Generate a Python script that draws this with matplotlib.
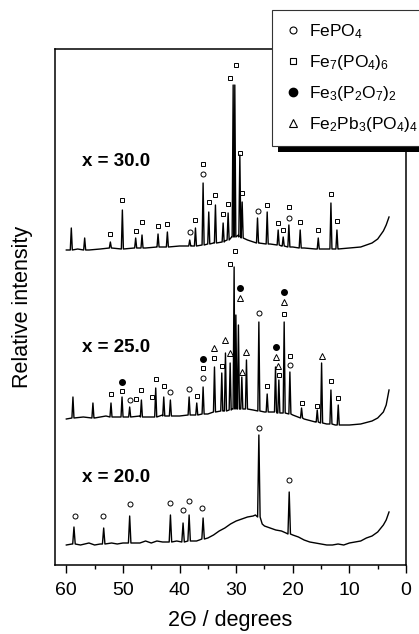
import numpy as np
import matplotlib

matplotlib.use("Agg")  # Non-interactive backend
import matplotlib.pyplot as plt
from matplotlib.lines import Line2D
from matplotlib.patches import Rectangle

plt.rcParams["font.family"] = ["Liberation Sans", "DejaVu Sans"]
plt.rcParams["mathtext.fontset"] = "custom"
plt.rcParams["mathtext.rm"] = "Liberation Sans"
plt.rcParams["mathtext.it"] = "Liberation Sans:italic"
plt.rcParams["mathtext.bf"] = "Liberation Sans:bold"
plt.rcParams["mathtext.default"] = "regular"

# ---- x = 30.0 (top trace) ----
top_base_2t = [60, 58, 56, 54, 52, 50, 48, 46, 44, 42, 40, 38, 36, 34, 32, 30.8, 29.6,
               28, 26, 24, 22, 20, 18, 16, 14, 12, 10, 8, 6, 5, 4, 3.5, 3.0]
top_base_y = [315, 316, 315, 316, 317, 316, 317, 317, 318, 318, 319, 319, 320, 322, 324, 328, 330,
              325, 322, 321, 319, 318, 317, 316, 316, 316, 317, 318, 322, 326, 334, 340, 348]
top_peak_2t = [59.12, 56.76, 52.22, 50.10, 47.75, 46.63, 43.80, 42.15, 38.20, 37.19, 35.84,
               34.84, 33.66, 32.30, 31.42, 30.53, 30.24, 29.35, 28.94, 26.23, 24.52, 22.58,
               21.69, 20.69, 18.69, 15.50, 13.26, 12.20]
top_peak_top = [337, 327, 323, 355, 327, 330, 331, 333, 325, 337, 382,
                353, 360, 342, 352, 480, 480, 410, 363, 347, 353, 335,
                328, 340, 335, 327, 362, 335]
top_peak_foot = [315, 315, 317, 316, 317, 317, 318, 318, 319, 319, 320,
                 321, 322, 323, 325, 328, 328, 328, 327, 322, 321, 320,
                 319, 318, 317, 316, 316, 316]

# ---- x = 25.0 (middle trace) ----
mid_base_2t = [60, 57, 55, 53, 50, 47, 45, 43, 40, 37, 35, 32.2, 30.7, 27, 25, 22.8,
               20, 18, 16, 14, 12.5, 10, 8, 6, 5, 4, 3.5, 3.0]
mid_base_y = [146, 148, 147, 149, 148, 149, 148, 150, 149, 151, 151, 154, 156, 155, 153, 152,
              150, 146, 143, 141, 140, 140, 141, 144, 147, 153, 160, 175]
mid_peak_2t = [58.83, 55.30, 52.11, 50.16, 48.81, 46.74, 44.21, 42.79, 41.62, 38.31, 36.96,
               35.84, 33.83, 32.54, 31.89, 31.06, 30.36, 30.05, 29.60, 29.00, 28.18, 25.99,
               24.52, 23.05, 22.46, 21.52, 20.51, 18.45, 15.68, 14.91, 13.26, 11.97]
mid_peak_top = [168, 162, 162, 168, 158, 165, 177, 168, 165, 168, 162,
                178, 198, 192, 212, 202, 298, 250, 240, 188, 205, 243,
                171, 198, 185, 243, 193, 157, 155, 202, 175, 160]
mid_peak_foot = [147, 147, 148, 148, 148, 148, 148, 149, 149, 150, 150,
                 151, 153, 154, 154, 155, 156, 156, 156, 156, 156, 154,
                 153, 153, 152, 152, 151, 147, 143, 142, 141, 140]

# ---- x = 20.0 (bottom trace) ----
bot_base_2t = [60, 59, 57.5, 56, 55, 54, 52, 51, 50, 47, 46, 45, 44, 43, 40.5, 37, 36.5,
               35, 34, 33, 32, 31, 30, 29, 28, 27, 26.6, 25.4, 25, 24, 23, 22, 21.2, 20,
               19, 18, 17, 16, 15, 14, 13, 12, 11, 10, 9, 8, 7, 6, 5, 4, 3.5, 3.0]
bot_base_y = [20, 21, 20, 22, 20, 21, 22, 21, 22, 22, 24, 22, 24, 23, 24, 24, 25,
              27, 30, 34, 37, 41, 44, 46, 48, 49, 50, 41, 39, 37, 35, 34, 32, 30,
              28, 25, 23, 22, 21, 20, 20, 21, 20, 22, 23, 24, 27, 29, 33, 40, 45, 53]
bot_peak_2t = [58.65, 53.40, 48.81, 41.61, 39.38, 38.31, 35.84, 25.99, 20.63]
bot_peak_top = [38, 37, 49, 50, 42, 50, 47, 130, 73]
bot_peak_foot = [21, 21, 22, 23, 23, 24, 26, 48, 31]

# ---- phase markers ----
fepo4_2t = [38.20, 35.84, 26.23, 20.69,
            48.81, 41.62, 38.31, 35.84, 25.99, 20.51,
            58.53, 53.52, 48.81, 41.73, 39.38, 38.31, 35.96, 25.99, 20.63]
fepo4_y = [333, 391, 354, 347,
           165, 173, 176, 187, 252, 200,
           49, 49, 61, 62, 55, 64, 57, 137, 85]

fe7_2t = [52.22, 50.10, 47.75, 46.63, 43.80, 42.15, 37.19, 35.84, 34.84, 33.66, 32.30,
          31.42, 31.12, 30.06, 29.35, 28.94, 24.52, 22.58, 21.69, 20.69, 18.69, 15.50,
          13.26, 12.20,
          52.11, 50.16, 47.63, 46.74, 44.80, 44.21, 42.79, 36.96, 35.84, 33.83, 32.54,
          31.12, 30.12, 24.52, 22.46, 21.52, 20.51, 18.45, 15.68, 13.26, 11.97]
fe7_y = [331, 365, 334, 343, 339, 341, 345, 401, 363, 370, 351,
         361, 487, 500, 412, 372, 360, 342, 335, 358, 343, 335,
         371, 344,
         171, 174, 166, 175, 168, 186, 179, 169, 197, 207, 199,
         301, 314, 179, 190, 251, 209, 162, 159, 184, 167]

fe3_2t = [50.16, 35.84, 29.24, 23.05, 21.52]
fe3_y = [183, 206, 277, 218, 273]

fe2pb3_2t = [33.83, 31.89, 31.06, 29.24, 29.00, 28.18, 23.05, 22.58, 21.52, 14.91]
fe2pb3_y = [217, 225, 212, 267, 193, 213, 208, 199, 263, 209]

sample_labels = ["x = 30.0", "x = 25.0", "x = 20.0"]
sample_label_y = [404, 217, 88]

xticks = [60, 50, 40, 30, 20, 10, 0]
legend_labels = ["FePO$_4$", "Fe$_7$(PO$_4$)$_6$", "Fe$_3$(P$_2$O$_7$)$_2$",
                 "Fe$_2$Pb$_3$(PO$_4$)$_4$"]


def build_trace(base_2t, base_y, peak_2t, peak_top, peak_foot, hw=0.18):
    # baseline readings plus a narrow triangle for each peak
    xs, ys = [], []
    for t, y in zip(base_2t, base_y):
        if all(abs(t - p) > hw for p in peak_2t):
            xs.append(t)
            ys.append(y)
    for p, top, foot in zip(peak_2t, peak_top, peak_foot):
        xs += [p + hw, p, p - hw]
        ys += [foot, top, foot]
    order = np.argsort(xs)[::-1]
    return np.array(xs)[order], np.array(ys)[order]


fig = plt.figure(figsize=(4.19, 6.34), dpi=100)
ax = fig.add_axes([55 / 419, 69 / 634, 351 / 419, 516 / 634])

traces = [
    build_trace(top_base_2t, top_base_y, top_peak_2t, top_peak_top, top_peak_foot),
    build_trace(mid_base_2t, mid_base_y, mid_peak_2t, mid_peak_top, mid_peak_foot),
    build_trace(bot_base_2t, bot_base_y, bot_peak_2t, bot_peak_top, bot_peak_foot, hw=0.22),
]
for tx, ty in traces:
    ax.plot(tx, ty, color="black", lw=1.0)

ax.plot(fepo4_2t, fepo4_y, ls="none", marker="o", ms=3.6, mfc="none", mec="black", mew=0.7)
ax.plot(fe7_2t, fe7_y, ls="none", marker="s", ms=3.0, mfc="none", mec="black", mew=0.7)
ax.plot(fe3_2t, fe3_y, ls="none", marker="o", ms=4.0, mfc="black", mec="black")
ax.plot(fe2pb3_2t, fe2pb3_y, ls="none", marker="^", ms=5.0, mfc="none", mec="black", mew=0.7)

for lab, ly in zip(sample_labels, sample_label_y):
    ax.text(57.3, ly, lab, fontsize=13.5, fontweight="bold", ha="left", va="center")

ax.set_xlim(62, 0)
ax.set_ylim(0, 516)
ax.set_xticks(xticks)
ax.set_xticklabels([str(t) for t in xticks])
ax.set_xticks([55, 45, 35, 25, 15, 5], minor=True)
ax.set_yticks([])
ax.tick_params(axis="x", which="major", length=6, width=1, labelsize=14, pad=6)
ax.tick_params(axis="x", which="minor", length=3, width=1)
for sp in ax.spines.values():
    sp.set_linewidth(1.1)
ax.set_xlabel("2\u0398 / degrees", fontsize=15.5, labelpad=8)
ax.set_ylabel("Relative intensity", fontsize=15.5, labelpad=16)

handles = [
    Line2D([], [], ls="none", marker="o", ms=5, mfc="none", mec="black", mew=0.8),
    Line2D([], [], ls="none", marker="s", ms=5, mfc="none", mec="black", mew=0.8),
    Line2D([], [], ls="none", marker="o", ms=6, mfc="black", mec="black"),
    Line2D([], [], ls="none", marker="^", ms=6, mfc="none", mec="black", mew=0.8),
]
leg = fig.legend(handles, legend_labels, loc="upper left",
                 bbox_to_anchor=(272 / 419, 1 - 10 / 634), borderaxespad=0,
                 fontsize=12.5, frameon=True, fancybox=False, edgecolor="#333333",
                 framealpha=1, borderpad=0.7, handlelength=1.0, handletextpad=0.45,
                 labelspacing=0.7)
leg.get_frame().set_linewidth(0.8)
leg.set_zorder(5)

# black drop shadow under the legend box
fig.canvas.draw()
bb = leg.get_window_extent().transformed(fig.transFigure.inverted())
shadow = Rectangle((bb.x0 + 6 / 419, bb.y0 - 6 / 634), bb.width, bb.height,
                   transform=fig.transFigure, facecolor="black", edgecolor="none", zorder=4)
fig.add_artist(shadow)

fig.savefig("out.png", dpi=100)
